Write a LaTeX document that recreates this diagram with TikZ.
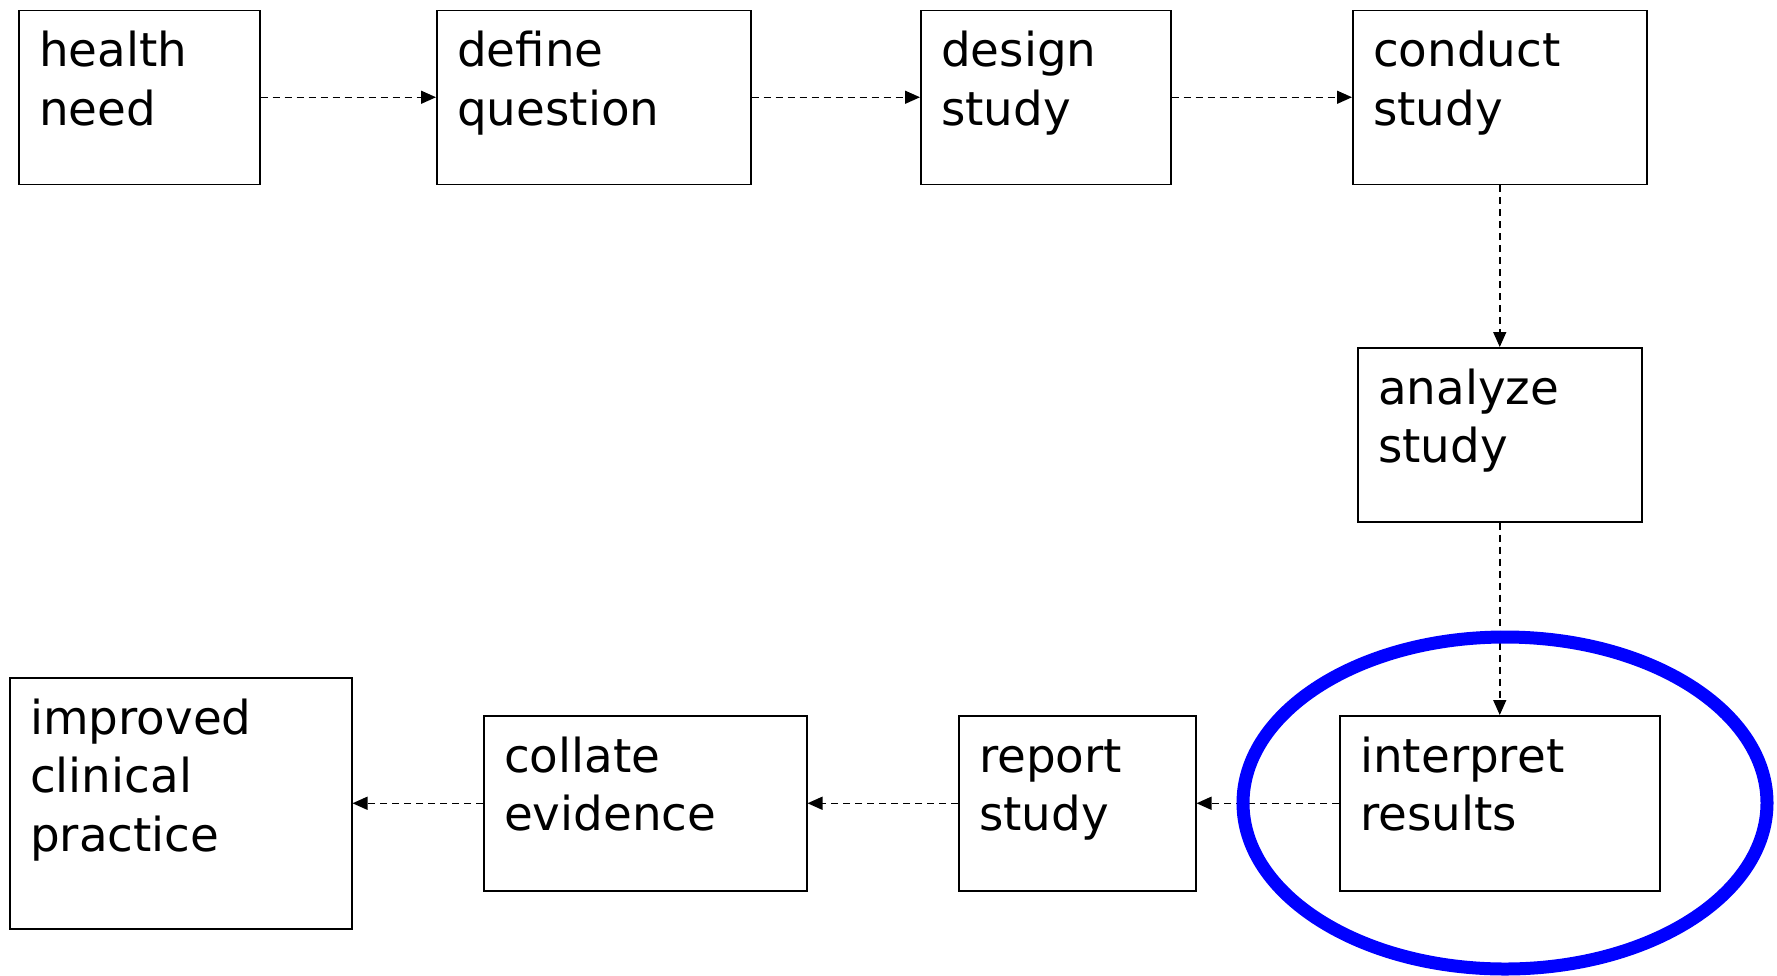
\documentclass[tikz,border=0pt]{standalone}
\usepackage{fontspec}
\setmainfont{DejaVu Sans}
\usetikzlibrary{arrows.meta}

\tikzset{
  stagebox/.style={draw, line width=1.5pt, inner sep=0pt, anchor=north west},
  stagetext/.style={anchor=base west, inner sep=0pt,
                    font=\fontsize{46.8}{58.5}\selectfont},
  flow/.style={line width=1.5pt, dash pattern=on 7pt off 5pt,
               -{Triangle[length=15pt,width=13pt]}},
  focusring/.style={draw=blue, line width=13pt}
}

% lines of a stage label, first baseline on the node's baseline
\newcommand{\stagelines}[1]{\begin{tabular}[t]{@{}l@{}}#1\end{tabular}}

% \stage{name}{left}{top}{right}{bottom}{label}
\newcommand{\stage}[6]{%
  \node[stagebox, minimum width={#4pt-#2pt}, minimum height={#5pt-#3pt}]
    (#1) at (#2,#3) {};
  \node[stagetext] (#1-label) at ([shift={(21,57)}]#1.north west)
    {\stagelines{#6}};
}

\begin{document}
\begin{tikzpicture}[x=1pt, y=-1pt]
  \fill[white] (0,0) rectangle (1777,975);
  \useasboundingbox (0,0) rectangle (1777,975);

  % top row
  \stage{health}{18}{9.5}{259}{183.5}{health\\need}
  \stage{define}{436}{9.5}{750}{183.5}{define\\question}
  \stage{design}{920}{9.5}{1170}{183.5}{design\\study}
  \stage{conduct}{1352}{9.5}{1646}{183.5}{conduct\\study}

  % right column
  \stage{analyze}{1357}{347}{1641}{521}{analyze\\study}

  % bottom row
  \stage{interpret}{1339}{715}{1659}{890}{interpret\\results}
  \stage{report}{958}{715}{1195}{890}{report\\study}
  \stage{collate}{483}{715}{806}{890}{collate\\evidence}
  \stage{improved}{9}{677}{351}{928}{improved\\clinical\\practice}

  % process flow
  \draw[flow] (health.east) -- (define.west);
  \draw[flow] (define.east) -- (design.west);
  \draw[flow] (design.east) -- (conduct.west);
  \draw[flow] (conduct.south) -- (analyze.north);
  \draw[flow] (analyze.south) -- (interpret.north);
  \draw[flow] (interpret.west) -- (report.east);
  \draw[flow] (report.west) -- (collate.east);
  \draw[flow] (collate.west) -- (improved.east);

  % highlight around the interpretation step
  \draw[focusring] (1505,803) ellipse [x radius=262pt, y radius=166pt];
\end{tikzpicture}
\end{document}
